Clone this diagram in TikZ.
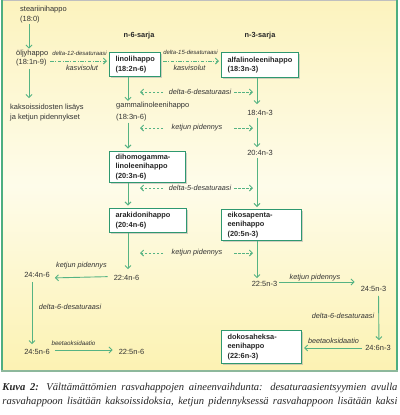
\documentclass[tikz,border=0pt]{standalone}
\usepackage{fontspec}
\setmainfont{Liberation Sans}
\newfontfamily\capfont{Liberation Serif}
\usetikzlibrary{arrows.meta,shadows}
\definecolor{bgtop}{HTML}{FCF3BE}
\definecolor{bgmid}{HTML}{FEFCEA}
\definecolor{bgbot}{HTML}{FCF2B2}
\definecolor{frame}{HTML}{4DAE80}
\definecolor{botline}{HTML}{8DB89C}
\definecolor{boxc}{HTML}{2E9870}
\definecolor{arr}{HTML}{55B383}
\definecolor{txt}{HTML}{333333}
\begin{document}
\begin{tikzpicture}[x=1bp,y=-1bp,
 lbl/.style={inner sep=0pt, text=txt, align=left, font=\fontsize{7.5}{9.5}\selectfont},
 itl/.style={inner sep=0pt, text=txt, font=\fontsize{7.3}{9}\selectfont\itshape},
 sml/.style={inner sep=0pt, text=txt, font=\fontsize{6}{7}\selectfont\itshape},
 hdr/.style={inner sep=0pt, text=black!85, font=\fontsize{7.4}{9}\selectfont\bfseries},
 fabox/.style={draw=boxc, line width=1.1bp, fill=white, anchor=north west, inner xsep=6bp, inner ysep=0pt, align=left,
   font=\fontsize{7.4}{9.6}\selectfont\bfseries, text=black!85,
   drop shadow={shadow xshift=1.8bp, shadow yshift=-1.8bp, fill=black!35, opacity=0.5}},
 ar/.style={draw=arr, line width=0.9bp, -{Straight Barb[length=3bp,width=6bp]}},
 dsh/.style={ar, dash pattern=on 2.5bp off 1.5bp},
 dd/.style={ar, dash pattern=on 3.5bp off 1.5bp on 1bp off 1.5bp},
 captxt/.style={inner sep=0pt, text=black!85, font=\capfont\fontsize{10.6}{14}\selectfont\itshape}]
\useasboundingbox (0,0) rectangle (400,415);
\fill[white] (0,0) rectangle (400,415);
\shade[top color=bgtop, bottom color=bgbot, middle color=bgmid] (2,0) rectangle (397,371);
\draw[black!25, line width=0.8bp] (1.25,0.4) -- (397.75,0.4);
\draw[frame, line width=1.5bp] (2,0) -- (2,371.5);
\draw[frame, line width=1.5bp] (397,0) -- (397,371.5);
\draw[botline, line width=1.8bp] (1.25,371) -- (397.75,371);

% helper coordinates
\coordinate (colL) at (29,0);
\coordinate (c6) at (128,0);
\coordinate (c3) at (257,0);
\coordinate (r1) at (0,61);
\coordinate (L1) at (163,0);
\coordinate (L2) at (140,0);
\coordinate (R1) at (234,0);
\coordinate (R2) at (253,0);

% left column
\node[lbl, anchor=west] (stear) at (20,14.5) {steariinihappo\\(18:0)};
\node[lbl, anchor=west] (olj) at (16,58) {öljyhappo\\(18:1n-9)};
\node[lbl, anchor=west] (kaks) at (10,112.5) {kaksoissidosten lisäys\\ja ketjun pidennykset};

% headers
\node[hdr] (n6) at (139,36) {n-6-sarja};
\node[hdr] (n3) at (260,36) {n-3-sarja};

% boxes
\node[fabox, minimum width=51bp, text width=39bp, minimum height=24bp] (lino) at (109,52) {linolihappo\\(18:2n-6)};
\node[fabox, minimum width=77bp, text width=65bp, minimum height=25bp] (alfa) at (221,52) {alfalinoleenihappo\\(18:3n-3)};
\node[fabox, minimum width=76bp, text width=64bp, minimum height=31bp] (dihomo) at (109,151) {dihomogamma-\\linoleenihappo\\(20:3n-6)};
\node[fabox, minimum width=77bp, text width=65bp, minimum height=24bp] (arak) at (109,208) {arakidonihappo\\(20:4n-6)};
\node[fabox, minimum width=80bp, text width=68bp, minimum height=31bp] (eiko) at (221,209) {eikosapenta-\\eenihappo\\(20:5n-3)};
\node[fabox, minimum width=80bp, text width=68bp, minimum height=33bp] (doko) at (221,330) {dokosaheksa-\\eenihappo\\(22:6n-3)};

% plain intermediates
\node[lbl, anchor=west] (gamma) at (116,112) {gammalinoleenihappo\\[2.5bp](18:3n-6)};
\node[lbl] (n3a) at (260,113) {18:4n-3};
\node[lbl] (n3b) at (260,153) {20:4n-3};
\node[lbl] (n3c) at (264.5,284) {22:5n-3};
\node[lbl] (n3d) at (373.5,289) {24:5n-3};
\node[lbl] (n3e) at (378,348) {24:6n-3};
\node[lbl] (n6a) at (126.5,278) {22:4n-6};
\node[lbl] (n6b) at (37,275) {24:4n-6};
\node[lbl] (n6c) at (37,352) {24:5n-6};
\node[lbl] (n6d) at (131.5,352) {22:5n-6};

% enzyme labels
\node[sml] (d12) at (79.5,53) {delta-12-desaturaasi};
\node[itl] (kv1) at (82,67.5) {kasvisolut};
\node[sml] (d15) at (190.5,52.5) {delta-15-desaturaasi};
\node[itl] (kv2) at (189.5,68) {kasvisolut};
\node[itl] (m1) at (200,92) {delta-6-desaturaasi};
\node[itl] (m2) at (197,128) {ketjun pidennys};
\node[itl] (m3) at (200,188) {delta-5-desaturaasi};
\node[itl] (m4) at (197,253) {ketjun pidennys};
\node[itl] (k5) at (81.5,266) {ketjun pidennys};
\node[itl] (d6l) at (70,307) {delta-6-desaturaasi};
\node[inner sep=0pt, text=txt, font=\fontsize{6.3}{7}\selectfont\itshape] (b1) at (73.5,343) {beetaoksidaatio};
\node[itl] (k6) at (315,278) {ketjun pidennys};
\node[itl] (d6r) at (343,316) {delta-6-desaturaasi};
\node[itl] (b2) at (333.5,341) {beetaoksidaatio};

% solid arrows
\draw[ar, shorten <=1bp, shorten >=1bp] (stear.south -| colL) -- (olj.north -| colL);
\draw[ar, shorten <=3bp, shorten >=6bp] (olj.south -| colL) -- (kaks.north -| colL);
\draw[ar, shorten >=1.5bp] (lino.south -| c6) -- (gamma.north -| c6);
\draw[ar, shorten <=1bp, shorten >=2.5bp] (gamma.south -| c6) -- (dihomo.north -| c6);
\draw[ar, shorten >=2.5bp] (dihomo.south -| c6) -- (arak.north -| c6);
\draw[ar, shorten >=6bp] (arak.south -| c6) -- (n6a.north -| c6);
\draw[ar, shorten >=6bp] (alfa.south -| c3) -- (n3a.north -| c3);
\draw[ar, shorten <=2bp, shorten >=3bp] (n3a.south -| c3) -- (n3b.north -| c3);
\draw[ar, shorten <=2bp, shorten >=2bp] (n3b.south -| c3) -- (eiko.north -| c3);
\draw[ar, shorten >=3bp] (eiko.south -| c3) -- (n3c.north -| c3);
\draw[ar, shorten <=6bp, shorten >=5bp] ([yshift=1.5bp]n6a.west) -- (n6a.west -| n6b.east);
\draw[ar, shorten <=4bp, shorten >=5bp] ([xshift=-5bp]n6b.south) -- ([xshift=-5bp]n6c.north);
\draw[ar, shorten <=5bp, shorten >=6bp] ([yshift=2bp]n6c.east) -- ([yshift=2bp]n6c.east -| n6d.west);
\draw[ar, shorten <=2bp, shorten >=6bp] ([yshift=2bp]n3c.east) -- ([yshift=2bp]n3c.east -| n3d.west);
\draw[ar, shorten <=4bp, shorten >=5bp] ([xshift=5bp]n3d.south) -- ([xshift=1bp]n3e.north);
\draw[ar, shorten <=3bp, shorten >=2bp] (n3e.west) -- (doko.east |- n3e.west);

% dash-dot arrows
\draw[dd, shorten <=2bp, shorten >=2bp] (olj.east |- r1) -- (lino.west |- r1);
\draw[dd, shorten <=2bp, shorten >=2bp] (lino.east |- r1) -- (alfa.west |- r1);

% dashed enzyme arrows
\foreach \m in {m1,m2,m3,m4}{
  \draw[dsh] (\m -| L1) -- (\m -| L2);
  \draw[dsh] (\m -| R1) -- (\m -| R2);
}

% caption
\node[captxt] (cap1) at (200,388)
  {\makebox[395bp][s]{\textbf{Kuva 2:} Välttämättömien rasvahappojen aineenvaihdunta: desaturaasientsyymien avulla}};
\node[captxt] (cap2) at (200,402)
  {\makebox[395bp][s]{rasvahappoon lisätään kaksoissidoksia, ketjun pidennyksessä rasvahappoon lisätään kaksi}};
\end{tikzpicture}
\end{document}
